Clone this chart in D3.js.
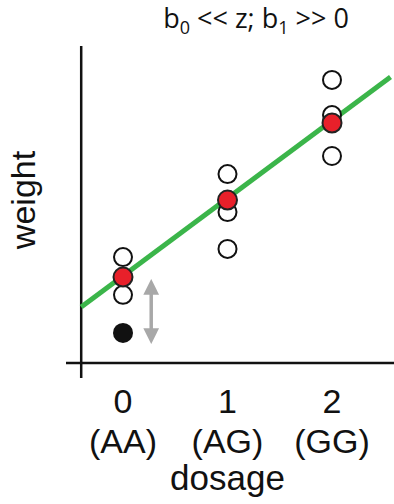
<!DOCTYPE html>
<html>
<head>
<meta charset="utf-8">
<script src="https://cdn.jsdelivr.net/npm/d3@7"></script>
<style>
  body { margin: 0; background: #fff; }
  text { font-family: "Liberation Sans", Arial, sans-serif; }
</style>
</head>
<body>
<svg id="chart" width="394" height="504"></svg>
<script>
// dosage groups and their labels
var dosages = [0, 1, 2];
var genotypes = ["(AA)", "(AG)", "(GG)"];

// observed weights (open circles), per dosage
var obsDosage = [0, 0, 1, 1, 1, 2, 2, 2];
var obsWeight = [33.4, 21.5, 59.6, 47.6, 36.0, 89.3, 78.2, 65.3];

// group means (red)
var meanWeight = [27.1, 51.4, 75.7];

// the outlier sample (black)
var outlierDosage = [0];
var outlierWeight = [9.5];

// fitted line weight = b0 + b1 * dosage
var b0 = 27.5, b1 = 24.5;
var lineRange = [-0.4, 2.56];

// arrow (residual) at dosage 0.27 between weights
var arrowAt = 0.27, arrowFrom = 26.2, arrowTo = 6.3;

var svg = d3.select("#chart");

var x = d3.scaleLinear()
    .domain([0, 2])
    .range([123, 332]);
var y = d3.scaleLinear()
    .domain([0, 100])
    .range([363, 46]);

// axes drawn as plain lines
svg.append("line")
    .attr("x1", x(-0.4)).attr("x2", x(-0.4))
    .attr("y1", y(100)).attr("y2", 378)
    .attr("stroke", "#111").attr("stroke-width", 2.5);
svg.append("line")
    .attr("x1", 66).attr("x2", 394)
    .attr("y1", y(0)).attr("y2", y(0))
    .attr("stroke", "#111").attr("stroke-width", 2.5);

// fitted line
svg.append("line")
    .attr("x1", x(lineRange[0])).attr("y1", y(b0 + b1 * lineRange[0]))
    .attr("x2", x(lineRange[1])).attr("y2", y(b0 + b1 * lineRange[1]))
    .attr("stroke", "#3bb54a").attr("stroke-width", 5);

// arrow
var defs = svg.append("defs");
defs.append("marker")
    .attr("id", "head")
    .attr("viewBox", "0 0 10 10")
    .attr("refX", 3).attr("refY", 5)
    .attr("markerWidth", 4.5).attr("markerHeight", 5)
    .attr("orient", "auto-start-reverse")
    .append("path")
    .attr("d", "M0,0 L10,5 L0,10 Z")
    .attr("fill", "#a8a8a8");
svg.append("line")
    .attr("x1", x(arrowAt)).attr("x2", x(arrowAt))
    .attr("y1", y(arrowFrom) + 10).attr("y2", y(arrowTo) - 10)
    .attr("stroke", "#a8a8a8").attr("stroke-width", 3.5)
    .attr("marker-start", "url(#head)")
    .attr("marker-end", "url(#head)");

// open circles
svg.selectAll(".obs")
    .data(obsWeight)
    .enter().append("circle")
    .attr("class", "obs")
    .attr("cx", function(d, i) { return x(obsDosage[i]); })
    .attr("cy", function(d) { return y(d); })
    .attr("r", 9)
    .attr("fill", "#fff")
    .attr("stroke", "#111")
    .attr("stroke-width", 2);

// outlier
svg.selectAll(".out")
    .data(outlierWeight)
    .enter().append("circle")
    .attr("class", "out")
    .attr("cx", function(d, i) { return x(outlierDosage[i]); })
    .attr("cy", function(d) { return y(d); })
    .attr("r", 10)
    .attr("fill", "#111");

// means
svg.selectAll(".mean")
    .data(meanWeight)
    .enter().append("circle")
    .attr("class", "mean")
    .attr("cx", function(d, i) { return x(dosages[i]); })
    .attr("cy", function(d) { return y(d); })
    .attr("r", 9.5)
    .attr("fill", "#e8202a")
    .attr("stroke", "#222")
    .attr("stroke-width", 2);

// tick labels
svg.selectAll(".tick0")
    .data(dosages)
    .enter().append("text")
    .attr("x", function(d) { return x(d); })
    .attr("y", 413)
    .attr("text-anchor", "middle")
    .attr("font-size", 34)
    .attr("fill", "#111")
    .text(function(d) { return d; });
svg.selectAll(".tick1")
    .data(genotypes)
    .enter().append("text")
    .attr("x", function(d, i) { return x(dosages[i]); })
    .attr("y", 453)
    .attr("text-anchor", "middle")
    .attr("font-size", 34)
    .attr("fill", "#111")
    .text(function(d) { return d; });

// axis titles
svg.append("text")
    .attr("x", x(1))
    .attr("y", 490)
    .attr("text-anchor", "middle")
    .attr("font-size", 35)
    .attr("fill", "#111")
    .text("dosage");
svg.append("text")
    .attr("transform", "translate(35,200) rotate(-90)")
    .attr("text-anchor", "middle")
    .attr("font-size", 34)
    .attr("fill", "#111")
    .text("weight");

// title with subscripts
var title = svg.append("text")
    .attr("x", 256)
    .attr("y", 28)
    .attr("text-anchor", "middle")
    .attr("font-size", 27)
    .style("font-family", "'Open Sans', 'Noto Sans', sans-serif")
    .attr("fill", "#111");
title.append("tspan").text("b");
title.append("tspan").attr("font-size", 18).attr("dy", 6).text("0");
title.append("tspan").attr("dy", -6).text(" << z; b");
title.append("tspan").attr("font-size", 18).attr("dy", 6).text("1");
title.append("tspan").attr("dy", -6).text(" >> 0");
</script>
</body>
</html>
